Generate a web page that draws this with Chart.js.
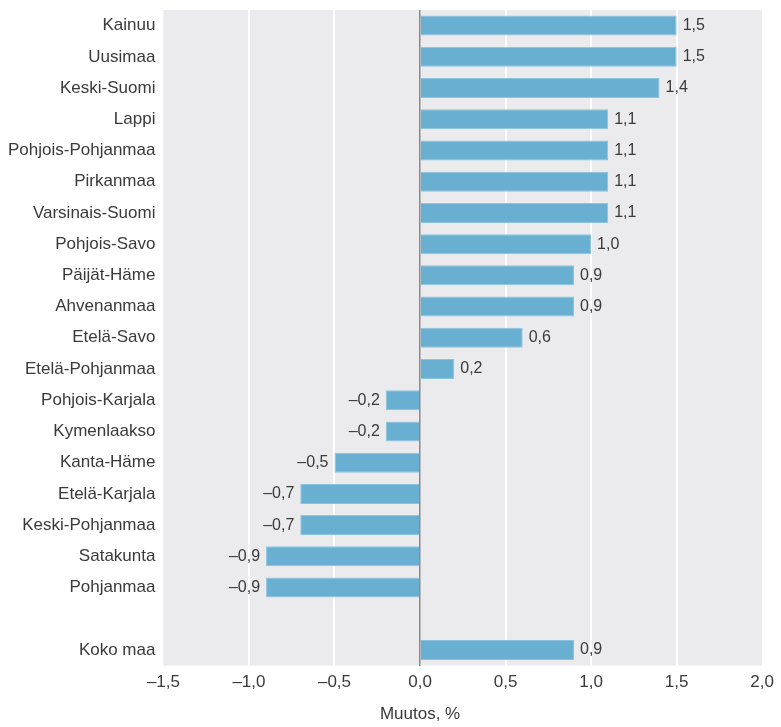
<!DOCTYPE html>
<html>
<head>
<meta charset="utf-8">
<script src="https://cdn.jsdelivr.net/npm/chart.js@4.4.1/dist/chart.umd.min.js"></script>
<style>
  html, body { margin: 0; padding: 0; background: #fff; }
  #wrap { width: 781px; height: 727px; }
</style>
</head>
<body>
<div id="wrap"><canvas id="chart"></canvas></div>
<script>
const regions = ['Kainuu', 'Uusimaa', 'Keski-Suomi', 'Lappi', 'Pohjois-Pohjanmaa', 'Pirkanmaa',
    'Varsinais-Suomi', 'Pohjois-Savo', 'Päijät-Häme', 'Ahvenanmaa', 'Etelä-Savo', 'Etelä-Pohjanmaa',
    'Pohjois-Karjala', 'Kymenlaakso', 'Kanta-Häme', 'Etelä-Karjala', 'Keski-Pohjanmaa', 'Satakunta',
    'Pohjanmaa', '', 'Koko maa'];
const changes = [1.5, 1.5, 1.4, 1.1, 1.1, 1.1, 1.1, 1.0, 0.9, 0.9, 0.6, 0.2,
    -0.2, -0.2, -0.5, -0.7, -0.7, -0.9, -0.9, null, 0.9];
const xMin = -1.5;
const xMax = 2.0;
const xStep = 0.5;
const axisTitle = 'Muutos, %';

const fontFamily = "'Liberation Sans', Arial, sans-serif";
const textColor = '#3a3a3a';

function fmt(v, digits) {
    const s = Math.abs(v).toFixed(digits).replace('.', ',');
    return (v < 0 ? '\u2013' : '') + s;
}

// value labels next to bar ends + axis title centred on zero
const labelPlugin = {
    id: 'labels',
    afterDatasetsDraw(chart) {
        const ctx = chart.ctx;
        const meta = chart.getDatasetMeta(0);
        ctx.save();
        ctx.font = '16px ' + fontFamily;
        ctx.fillStyle = textColor;
        ctx.textBaseline = 'middle';
        meta.data.forEach((bar, i) => {
            const v = changes[i];
            if (v === null) return;
            if (v >= 0) {
                ctx.textAlign = 'left';
                ctx.fillText(fmt(v, 1), bar.x + 6, bar.y);
            } else {
                ctx.textAlign = 'right';
                ctx.fillText(fmt(v, 1), bar.x - 6, bar.y);
            }
        });
        const x0 = chart.scales.x.getPixelForValue(0);
        ctx.font = '17px ' + fontFamily;
        ctx.textAlign = 'center';
        ctx.textBaseline = 'alphabetic';
        ctx.fillText(axisTitle, x0, chart.chartArea.bottom + 53);
        ctx.restore();
    }
};

const plotBg = {
    id: 'plotBg',
    beforeDraw(chart) {
        const a = chart.chartArea;
        chart.ctx.save();
        chart.ctx.fillStyle = '#ebebee';
        chart.ctx.fillRect(a.left, a.top, a.right - a.left, a.bottom - a.top);
        chart.ctx.restore();
    }
};

new Chart(document.getElementById('chart').getContext('2d'), {
    type: 'bar',
    data: {
        labels: regions,
        datasets: [{
            data: changes,
            backgroundColor: '#69afd1',
            borderColor: '#8cc3de',
            borderWidth: 1,
            barPercentage: 0.64,
            categoryPercentage: 1.0,
        }]
    },
    plugins: [plotBg, labelPlugin],
    options: {
        indexAxis: 'y',
        responsive: true,
        maintainAspectRatio: false,
        animation: false,
        layout: { padding: { top: 10, right: 18, bottom: 27, left: 0 } },
        plugins: {
            legend: { display: false },
            tooltip: { enabled: false },
        },
        scales: {
            x: {
                min: xMin,
                max: xMax,
                border: { display: false },
                ticks: {
                    stepSize: xStep,
                    font: { family: fontFamily, size: 17 },
                    color: textColor,
                    padding: 7,
                    callback: function (value) { return fmt(value, 1); },
                },
                grid: {
                    drawTicks: false,
                    color: function (c) {
                        const v = c.tick.value;
                        if (Math.abs(v) < 1e-9) return '#8a8a8a';
                        if (v <= xMin + 1e-9 || v >= xMax - 1e-9) return 'transparent';
                        return '#ffffff';
                    },
                    lineWidth: function (c) {
                        return Math.abs(c.tick.value) < 1e-9 ? 1.5 : 2;
                    },
                },
            },
            y: {
                border: { display: false },
                afterFit: function (scale) {
                    scale.paddingTop = 0;
                    scale.paddingBottom = 0;
                },
                ticks: {
                    font: { family: fontFamily, size: 17 },
                    color: textColor,
                    padding: 8,
                },
                grid: { display: false, drawTicks: false },
            }
        }
    }
});
</script>
</body>
</html>
